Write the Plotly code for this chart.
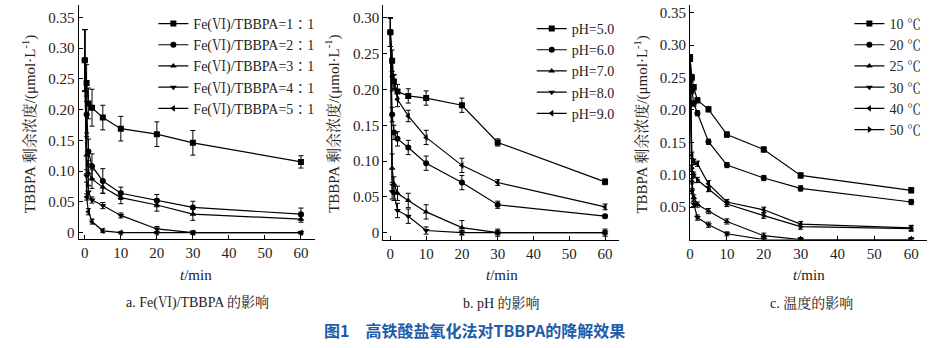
import plotly.graph_objects as go

# ---------------- data ----------------
t = [0, 0.5, 1, 2, 5, 10, 20, 30, 60]

a_names = ["Fe(Ⅵ)/TBBPA=1∶1", "Fe(Ⅵ)/TBBPA=2∶1", "Fe(Ⅵ)/TBBPA=3∶1",
           "Fe(Ⅵ)/TBBPA=4∶1", "Fe(Ⅵ)/TBBPA=5∶1"]
a_vals = [
    [0.280, 0.243, 0.210, 0.203, 0.187, 0.169, 0.160, 0.146, 0.115],
    [0.280, 0.192, 0.132, 0.108, 0.084, 0.064, 0.052, 0.041, 0.030],
    [0.280, 0.126, 0.097, 0.087, 0.074, 0.057, 0.045, 0.030, 0.022],
    [0.280, 0.092, 0.066, 0.053, 0.044, 0.028, 0.006, 0.000, 0.000],
    [0.280, 0.058, 0.034, 0.018, 0.003, 0.000, 0.000, 0.000, 0.000],
]
a_err = [
    [0.050, 0.030, 0.025, 0.030, 0.020, 0.020, 0.020, 0.020, 0.010],
    [0.050, 0.030, 0.020, 0.020, 0.020, 0.010, 0.010, 0.010, 0.010],
    [0.050, 0.030, 0.020, 0.015, 0.010, 0.010, 0.010, 0.010, 0.005],
    [0.050, 0.010, 0.010, 0.005, 0.005, 0.004, 0.004, 0.003, 0.002],
    [0.050, 0.005, 0.005, 0.004, 0.003, 0.002, 0.002, 0.002, 0.002],
]

b_names = ["pH=5.0", "pH=6.0", "pH=7.0", "pH=8.0", "pH=9.0"]
b_vals = [
    [0.280, 0.240, 0.211, 0.197, 0.191, 0.188, 0.178, 0.126, 0.071],
    [0.280, 0.165, 0.140, 0.131, 0.119, 0.097, 0.070, 0.039, 0.023],
    [0.280, 0.090, 0.068, 0.055, 0.045, 0.029, 0.007, 0.000, 0.000],
    [0.280, 0.057, 0.055, 0.031, 0.023, 0.003, 0.000, 0.000, 0.000],
    [0.280, 0.218, 0.210, 0.186, 0.163, 0.133, 0.094, 0.070, 0.036],
]
b_err = [
    [0.020, 0.015, 0.010, 0.010, 0.010, 0.010, 0.010, 0.005, 0.004],
    [0.020, 0.010, 0.010, 0.010, 0.010, 0.010, 0.010, 0.005, 0.002],
    [0.020, 0.020, 0.010, 0.010, 0.010, 0.010, 0.010, 0.005, 0.005],
    [0.020, 0.010, 0.010, 0.010, 0.010, 0.005, 0.003, 0.003, 0.003],
    [0.020, 0.020, 0.010, 0.010, 0.008, 0.010, 0.010, 0.004, 0.004],
]

c_names = ["10 ℃", "20 ℃", "25 ℃", "30 ℃", "40 ℃", "50 ℃"]
c_vals = [
    [0.280, 0.250, 0.235, 0.215, 0.201, 0.162, 0.139, 0.099, 0.076],
    [0.280, 0.230, 0.210, 0.195, 0.151, 0.115, 0.095, 0.079, 0.058],
    [0.280, 0.090, 0.065, 0.054, 0.044, 0.028, 0.006, 0.000, 0.000],
    [0.280, 0.075, 0.055, 0.034, 0.023, 0.009, 0.000, 0.000, 0.000],
    [0.280, 0.130, 0.120, 0.117, 0.086, 0.058, 0.046, 0.024, 0.018],
    [0.280, 0.110, 0.100, 0.092, 0.078, 0.055, 0.037, 0.020, 0.017],
]
c_err = [
    [0.005, 0.005, 0.004, 0.004, 0.004, 0.004, 0.004, 0.004, 0.004],
    [0.005, 0.005, 0.004, 0.004, 0.004, 0.004, 0.004, 0.004, 0.004],
    [0.005, 0.004, 0.004, 0.004, 0.004, 0.004, 0.004, 0.003, 0.003],
    [0.005, 0.004, 0.004, 0.004, 0.004, 0.003, 0.003, 0.003, 0.003],
    [0.005, 0.005, 0.004, 0.004, 0.005, 0.004, 0.004, 0.004, 0.004],
    [0.005, 0.005, 0.004, 0.004, 0.004, 0.004, 0.004, 0.004, 0.004],
]

symbols = ["square", "circle", "triangle-up", "triangle-down",
           "triangle-left", "triangle-right"]

y_title = "TBBPA 剩余浓度/(μmol·L<sup>-1</sup>)"
x_title = "<i>t</i>/min"
subtitles = ["a. Fe(Ⅵ)/TBBPA 的影响", "b. pH 的影响", "c. 温度的影响"]
fig_title = "图1　高铁酸盐氧化法对TBBPA的降解效果"

SERIF = "Liberation Serif, Times New Roman, Noto Serif CJK SC, Noto Sans CJK SC, serif"
INK = "#222222"

fig = go.Figure()

panels = [
    (a_names, a_vals, a_err, "x", "y", "legend"),
    (b_names, b_vals, b_err, "x2", "y2", "legend2"),
    (c_names, c_vals, c_err, "x3", "y3", "legend3"),
]
for names, vals, errs, xa, ya, lg in panels:
    for i, (nm, v, e) in enumerate(zip(names, vals, errs)):
        fig.add_trace(go.Scatter(
            x=t, y=v, name=nm, mode="lines+markers",
            xaxis=xa, yaxis=ya, legend=lg,
            line=dict(color="black", width=1.2),
            marker=dict(symbol=symbols[i], size=6, color="black"),
            error_y=dict(type="data", array=e, visible=True,
                         color="black", thickness=1, width=2.5),
        ))

W, H = 938, 348
def px(x):
    return x / W
def py(y):
    return 1 - y / H

axis_common = dict(
    showline=True, linecolor="black", linewidth=1.2,
    ticks="inside", ticklen=4, tickcolor="black", tickwidth=1,
    showgrid=False, zeroline=False,
    tickfont=dict(family=SERIF, size=15, color=INK),
)

layout = dict(
    width=W, height=H, margin=dict(l=0, r=0, t=0, b=0),
    paper_bgcolor="white", plot_bgcolor="white",
    font=dict(family=SERIF, color=INK),
    # panel a
    xaxis=dict(domain=[px(75), px(312)], range=[-1.7, 63.8],
               tickvals=[0, 10, 20, 30, 40, 50, 60], anchor="y", **axis_common),
    yaxis=dict(domain=[py(240), py(5)], range=[-0.0097, 0.37],
               tickvals=[0, 0.05, 0.10, 0.15, 0.20, 0.25, 0.30, 0.35],
               ticktext=["0", "0.05", "0.10", "0.15", "0.20", "0.25", "0.30", "0.35"],
               anchor="x", **axis_common),
    # panel b
    xaxis2=dict(domain=[px(381), px(618)], range=[-1.95, 64],
                tickvals=[0, 10, 20, 30, 40, 50, 60], anchor="y2", **axis_common),
    yaxis2=dict(domain=[py(241), py(5)], range=[-0.0097, 0.318],
                tickvals=[0, 0.05, 0.10, 0.15, 0.20, 0.25, 0.30],
                ticktext=["0", "0.05", "0.10", "0.15", "0.20", "0.25", "0.30"],
                anchor="x2", **axis_common),
    # panel c
    xaxis3=dict(domain=[px(689), px(927)], range=[0, 64.3],
                tickvals=[0, 10, 20, 30, 40, 50, 60], anchor="y3", **axis_common),
    yaxis3=dict(domain=[py(241), py(5)], range=[0, 0.362],
                tickvals=[0.05, 0.10, 0.15, 0.20, 0.25, 0.30, 0.35],
                ticktext=["0.05", "0.10", "0.15", "0.20", "0.25", "0.30", "0.35"],
                anchor="x3", **axis_common),
)

leg_common = dict(
    bgcolor="rgba(0,0,0,0)", borderwidth=0, itemwidth=30,
    font=dict(family=SERIF, size=14, color=INK),
    xanchor="left", yanchor="top", tracegroupgap=0,
)
layout["legend"] = dict(x=px(150), y=py(8), **leg_common)
layout["legend2"] = dict(x=px(530), y=py(13), **leg_common)
layout["legend3"] = dict(x=px(849), y=py(8), **leg_common)

fig.update_layout(**layout)

ann = []
for xc in [25, 330, 640]:
    ann.append(dict(x=px(xc), y=py(125), xref="paper", yref="paper",
                    xanchor="center", yanchor="middle",
                    text=y_title, textangle=-90, showarrow=False,
                    font=dict(family=SERIF, size=15, color=INK)))
for xc in [193, 500, 808]:
    ann.append(dict(x=px(xc), y=py(277), xref="paper", yref="paper",
                    xanchor="center", yanchor="middle",
                    text=x_title, showarrow=False,
                    font=dict(family=SERIF, size=15, color=INK)))
for xc, s in zip([194, 500, 811], subtitles):
    ann.append(dict(x=px(xc), y=py(305), xref="paper", yref="paper",
                    xanchor="center", yanchor="middle",
                    text=s, showarrow=False,
                    font=dict(family=SERIF, size=14, color=INK)))
ann.append(dict(x=px(473), y=py(332), xref="paper", yref="paper",
                xanchor="center", yanchor="middle",
                text="<b>" + fig_title + "</b>", showarrow=False,
                font=dict(family="Noto Sans CJK SC, sans-serif", size=16,
                          color="#1f5ca8")))
fig.update_layout(annotations=ann)

fig.write_html("out.html")
